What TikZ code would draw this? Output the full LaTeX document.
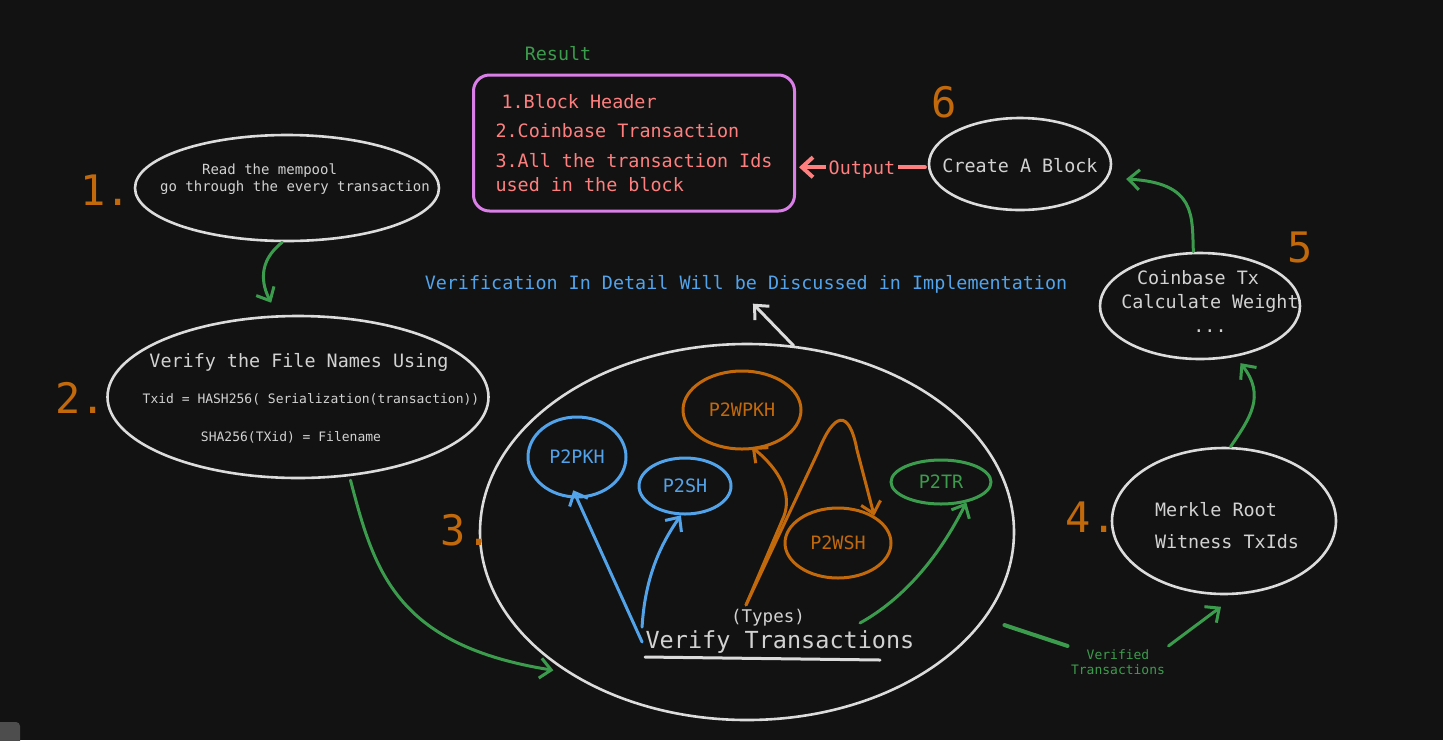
\documentclass[tikz,border=0pt]{standalone}
\usepackage{fontspec}
\setmonofont{DejaVu Sans Mono}
\usetikzlibrary{positioning,arrows.meta,calc,shapes.geometric}

\definecolor{bgc}{HTML}{121212}
\definecolor{chalk}{HTML}{DCDCDC}
\definecolor{ink}{HTML}{D2D2D2}
\definecolor{rust}{HTML}{C2690C}
\definecolor{sky}{HTML}{52A3EA}
\definecolor{leaf}{HTML}{3C9C4D}
\definecolor{orchid}{HTML}{DA7EE8}
\definecolor{salmon}{HTML}{FF7F7F}

\begin{document}
\begin{tikzpicture}[
    x=1pt, y=-1pt,
    font=\ttfamily,
    blob/.style={draw=chalk, ellipse, line width=2.6pt, inner sep=0pt},
    kind/.style={draw, ellipse, line width=3pt, inner sep=2pt,
                 font=\ttfamily\fontsize{18.4}{22}\selectfont},
    lbl/.style={text=ink, font=\ttfamily\fontsize{18.4}{24}\selectfont},
    small/.style={text=ink, font=\ttfamily\fontsize{14}{17}\selectfont},
    tiny/.style={text=ink, font=\ttfamily\fontsize{13}{16}\selectfont},
    num/.style={text=rust, font=\ttfamily\fontsize{42}{48}\selectfont, anchor=base},
    link/.style={-{Straight Barb[length=11pt,width=20pt]}, line width=3pt, line cap=round},
    flow/.style={link, leaf},
  ]
  % --- canvas ---
  \fill[bgc] (0,0) rectangle (1443,740);
  \useasboundingbox (0,0) rectangle (1443,740);
  \fill[bgc!75!white, rounded corners=4pt] (-6,722) rectangle (20,748);

  % --- step 1: read the mempool ---
  \node[blob, minimum width=304pt, minimum height=106pt] (read) at (287,188) {};
  \node[small, align=left] (readtxt) at (295,179)
    {\hspace*{42pt}Read the mempool\\go through the every transaction};
  \node[num] (n1) at (106,205) {1.};

  % --- step 2: verify file names ---
  \node[blob, minimum width=381pt, minimum height=162pt] (verify) at (298,397) {};
  \node[lbl] (verifyhead) at (299,362) {Verify the File Names Using};
  \node[tiny] (txid) at (311,399) {Txid = HASH256( Serialization(transaction))};
  \node[tiny] (fname) at (291,437) {SHA256(TXid) = Filename};
  \node[num] (n2) at (81,413) {2.};

  % --- step 3: verify transactions by type ---
  \node[blob, minimum width=534pt, minimum height=376pt] (txbox) at (747,532) {};
  \node[num] (n3) at (466,545) {3.};
  \node[kind, sky, minimum width=98pt, minimum height=80pt] (p2pkh) at (577,457) {P2PKH};
  \node[kind, sky, minimum width=92pt, minimum height=56pt] (p2sh) at (685,486) {P2SH};
  \node[kind, rust, minimum width=118pt, minimum height=78pt] (p2wpkh) at (742,410) {P2WPKH};
  \node[kind, rust, minimum width=106pt, minimum height=70pt] (p2wsh) at (838,543) {P2WSH};
  \node[kind, leaf, minimum width=100pt, minimum height=44pt] (p2tr) at (941,482) {P2TR};
  \node[lbl, font=\ttfamily\fontsize{17.5}{20}\selectfont] (types) at (768,618) {(Types)};
  \node[lbl, font=\ttfamily\fontsize{23.5}{28}\selectfont] (vt) at (780,642) {Verify Transactions};
  \draw[chalk, line width=3pt, line cap=round] (645,657) -- (880,660);
  \coordinate (fork) at (746,605);
  \coordinate (leafroot) at (860,623);

  % --- note above the verification step ---
  \node[text=sky, font=\ttfamily\fontsize{18.4}{22}\selectfont] (vtxt) at (746,284)
    {Verification In Detail Will be Discussed in Implementation};

  % --- step 4: merkle root ---
  \node[blob, minimum width=224pt, minimum height=146pt] (merkle) at (1224,521) {};
  \node[lbl, align=left, font=\ttfamily\fontsize{18.4}{32}\selectfont] (merkletxt)
    at (1227,526) {Merkle Root\\Witness TxIds};
  \node[num] (n4) at (1091,532) {4.};
  \node[text=leaf, align=center, font=\ttfamily\fontsize{13}{15}\selectfont] (vlbl)
    at (1118,662) {Verified\\Transactions};

  % --- step 5: coinbase ---
  \node[blob, minimum width=200pt, minimum height=106pt] (coinbase) at (1200,306) {};
  \node[lbl, align=center] (coinbasetxt) at (1210,302)
    {Coinbase Tx\hspace*{24pt}\\Calculate Weight\\...};
  \node[num] (n5) at (1300,262) {5};

  % --- step 6: create a block ---
  \node[blob, minimum width=182pt, minimum height=92pt] (mkblock) at (1020,164) {};
  \node[lbl] (mkblocktxt) at (1020,166) {Create A Block};
  \node[num] (n6) at (944,117) {6};

  % --- result ---
  \node[draw=orchid, line width=3pt, rounded corners=16pt, minimum width=321pt,
        minimum height=136pt, text=salmon, align=left,
        font=\ttfamily\fontsize{18.4}{24}\selectfont] (result) at (634,143)
    {\hspace*{6pt}1.Block Header\\[5pt]2.Coinbase Transaction\\[6pt]3.All the transaction Ids\\used in the block};
  \node[text=leaf, font=\ttfamily\fontsize{18.4}{22}\selectfont] (restitle) at (558,54) {Result};

  % --- arrows: main flow ---
  \draw[flow, shorten >=14pt] (read.265) .. controls (257,262) and (262,285) .. (verify.104);
  \draw[flow, shorten >=14pt, shorten <=4pt] (verify.-57) .. controls (374,570) and (395,645) .. (txbox.218);
  \draw[leaf, line width=4pt, line cap=round, shorten <=20pt] (txbox.-20) -- (vlbl.north west);
  \draw[flow, shorten >=20pt] (vlbl.north east) -- (merkle.-80);
  \draw[flow, shorten >=8pt] (merkle.85) .. controls (1250,418) and (1266,396) .. (coinbase.-55);
  \draw[flow, shorten >=18pt] (coinbase.97) .. controls (1192,215) and (1196,183) .. (mkblock.-9);
  \draw[link, salmon, line width=4pt, shorten >=3pt, shorten <=3pt] (mkblock.182) --
    node[fill=bgc, text=salmon, inner sep=3pt, text depth=0pt,
         font=\ttfamily\fontsize{18.4}{22}\selectfont] (outlbl) {Output}
    (mkblock.182 -| result.east);
  \draw[link, chalk, shorten >=10pt] (txbox.76) -- (vtxt.south);

  % --- arrows: transaction types ---
  \draw[link, sky, shorten >=-9pt] (vt.west) -- (p2pkh.south);
  \draw[link, sky] (vt.north west) .. controls (645,578) and (660,545) .. (p2sh.-98);
  \draw[link, rust, shorten >=-4pt] (fork) -- (784,516) .. controls (792,494) and (780,470) .. (p2wpkh.-72);
  \draw[link, rust] (fork) -- (818,452) .. controls (834,412) and (849,408) .. (857,450) -- (p2wsh.37);
  \draw[flow] (leafroot) .. controls (905,598) and (940,555) .. (p2tr.-39);
\end{tikzpicture}
\end{document}
